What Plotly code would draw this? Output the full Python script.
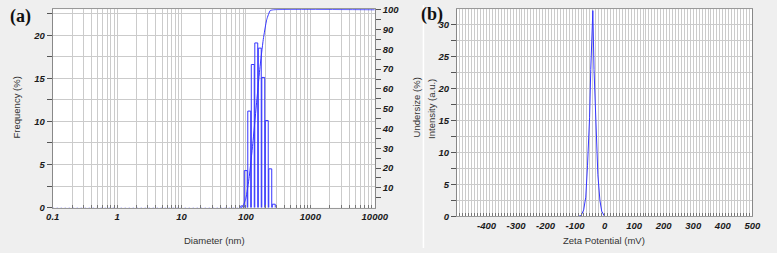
import plotly.graph_objects as go

# ---------------- Panel (a): particle size distribution ----------------
bin_edges_nm = [82.3, 93.3, 105.7, 119.8, 135.8, 153.9, 174.4, 197.6, 224.0, 253.8, 287.7]
frequency_pct = [0.2, 4.3, 11.2, 16.6, 19.1, 18.5, 15.1, 10.1, 4.5, 0.4]
undersize_x_nm = [82.3, 87.6, 99.3, 112.5, 127.6, 144.6, 163.8, 185.7, 210.4, 238.4, 270.2, 10000]
undersize_pct = [0, 0.2, 4.5, 15.7, 32.3, 51.4, 69.9, 85.0, 95.1, 99.6, 100, 100]
empty_bins_x_nm = [0.1, 82.3]
empty_bins_pct = [0, 0]
size_major_ticks = [0.1, 1, 10, 100, 1000, 10000]
size_major_labels = ["0.1", "1", "10", "100", "1000", "10000"]
freq_tick_labels = ["0", "5", "10", "15", "20"]
undersize_tick_labels = ["10", "20", "30", "40", "50", "60", "70", "80", "90", "100"]

# ---------------- Panel (b): zeta potential ----------------
zeta_mv = [-89, -80, -71, -64, -58, -51, -47, -40, -36, -29, -23, -16, -10, -3, 0]
zeta_intensity = [0, 0.1, 1.0, 3.0, 8.0, 15.5, 23.0, 32.2, 23.0, 14.0, 6.5, 2.5, 0.8, 0.2, 0]
zeta_tick_labels = ["-400", "-300", "-200", "-100", "0", "100", "200", "300", "400", "500"]
intensity_tick_labels = ["0", "5", "10", "15", "20", "25", "30"]

BLUE = "#3535ff"
GRID = "#cbcbcb"
BG = "#efefef"
W, H = 777, 253

TICKFONT = dict(family="Liberation Sans, Arial", size=9.5, color="#1a1a1a",
                weight="bold", style="italic")
TITLEFONT = dict(family="Liberation Sans, Arial", size=9.5, color="#333333")

fig = go.Figure()

# histogram bars (outlined rectangles)
bx, by = [], []
for i, h in enumerate(frequency_pct):
    l = bin_edges_nm[i] * 1.01
    r = bin_edges_nm[i + 1] / 1.01
    bx += [l, l, r, r, None]
    by += [0, h, h, 0, None]
fig.add_trace(go.Scatter(x=empty_bins_x_nm, y=empty_bins_pct, mode="lines",
                         line=dict(color="#a8a8ff", width=1, dash="1px,3px"),
                         xaxis="x", yaxis="y", cliponaxis=False))
fig.add_trace(go.Scatter(x=bx, y=by, mode="lines", line=dict(color=BLUE, width=1),
                         xaxis="x", yaxis="y", hoverinfo="skip"))
fig.add_trace(go.Scatter(x=undersize_x_nm, y=undersize_pct, mode="lines",
                         line=dict(color=BLUE, width=1, shape="spline", smoothing=0.5),
                         xaxis="x", yaxis="y2", cliponaxis=False))
fig.add_trace(go.Scatter(x=zeta_mv, y=zeta_intensity, mode="lines",
                         line=dict(color=BLUE, width=1),
                         xaxis="x3", yaxis="y3"))

# log-axis tick positions (major decades + minor 2..9)
size_tickvals, size_ticktext = [], []
for k, d in enumerate(size_major_ticks):
    size_tickvals.append(d)
    size_ticktext.append(size_major_labels[k])
    if d < 10000:
        for m in range(2, 10):
            size_tickvals.append(d * m)
            size_ticktext.append("")

freq_vals = [i * 2.5 for i in range(10)]
freq_text = [freq_tick_labels[i // 2] if i % 2 == 0 else "" for i in range(10)]
und_vals = [5 * i for i in range(1, 21)]
und_text = [undersize_tick_labels[i // 2 - 1] if i % 2 == 0 else "" for i in range(1, 21)]
int_vals = [i * 2.5 for i in range(14)]
int_text = [intensity_tick_labels[i // 2] if i % 2 == 0 else "" for i in range(14)]

ya_bot, y_top = 1 - 211 / H, 1 - 4.5 / H
yb_bot = 1 - 220 / H

fig.update_layout(
    width=W, height=H, autosize=False,
    margin=dict(l=0, r=0, t=0, b=0),
    paper_bgcolor=BG, plot_bgcolor="white",
    showlegend=False,
    xaxis=dict(type="log", domain=[47 / W, 378 / W], range=[-1, 4], anchor="y",
               tickmode="array", tickvals=size_tickvals, ticktext=size_ticktext,
               ticks="inside", ticklen=3, tickcolor="#777", tickfont=TICKFONT,
               showgrid=True, gridcolor=GRID, gridwidth=1, zeroline=False,
               showline=True, linecolor="#999", mirror=True),
    yaxis=dict(domain=[ya_bot, y_top], range=[0, 23], anchor="x",
               tickmode="array", tickvals=freq_vals, ticktext=freq_text,
               ticks="outside", ticklen=5, tickcolor="#555", tickfont=TICKFONT,
               showgrid=True, gridcolor=GRID, zeroline=False,
               showline=True, linecolor="#888"),
    yaxis2=dict(overlaying="y", side="right", anchor="x", range=[0, 100.2],
                tickmode="array", tickvals=und_vals, ticktext=und_text,
                ticks="outside", ticklen=5, tickcolor="#555", tickfont=TICKFONT,
                ticklabeloverflow="allow",
                showgrid=False, zeroline=False, showline=True, linecolor="#888"),
    xaxis3=dict(domain=[462.5 / W, 766 / W], range=[-500, 500], anchor="y3",
                tickmode="array", tickvals=[-400 + 100 * i for i in range(10)],
                ticktext=zeta_tick_labels,
                ticks="inside", ticklen=3, tickcolor="#777", tickfont=TICKFONT,
                showgrid=True, gridcolor=GRID, zeroline=False,
                minor=dict(dtick=10, tick0=0, showgrid=True, gridcolor=GRID,
                           ticks="inside", ticklen=3, tickcolor="#777"),
                showline=True, linecolor="#999", mirror=True),
    yaxis3=dict(domain=[yb_bot, y_top], range=[0, 32.4], anchor="x3",
                tickmode="array", tickvals=int_vals, ticktext=int_text,
                ticks="outside", ticklen=5, tickcolor="#555", tickfont=TICKFONT,
                showgrid=True, gridcolor=GRID, zeroline=False,
                showline=True, linecolor="#888", mirror=True),
)

def ann(text, x, y, font, angle=0):
    fig.add_annotation(text=text, x=x / W, y=1 - y / H, xref="paper", yref="paper",
                       showarrow=False, font=font, textangle=angle,
                       xanchor="center", yanchor="middle")

LABELFONT = dict(family="Liberation Serif, Times New Roman", size=18, color="#111",
                 weight="bold")
ann("(a)", 14, 12, LABELFONT)
ann("(b)", 437, 10, LABELFONT)
ann("Diameter (nm)", 213, 245, TITLEFONT)
ann("Zeta Potential (mV)", 614, 245, TITLEFONT)
ann("Frequency (%)", 10, 107, TITLEFONT, -90)
ann("Undersize (%)", 421, 107, TITLEFONT, -90)
ann("Intensity (a.u.)", 437, 108, TITLEFONT, -90)

fig.add_shape(type="line", xref="paper", yref="paper", x0=428 / W, x1=428 / W,
              y0=0, y1=1, line=dict(color="white", width=1.5))

fig.write_html("out.html", config={"displayModeBar": False},
               post_script="document.body.style.margin='0';document.body.style.padding='0';")
